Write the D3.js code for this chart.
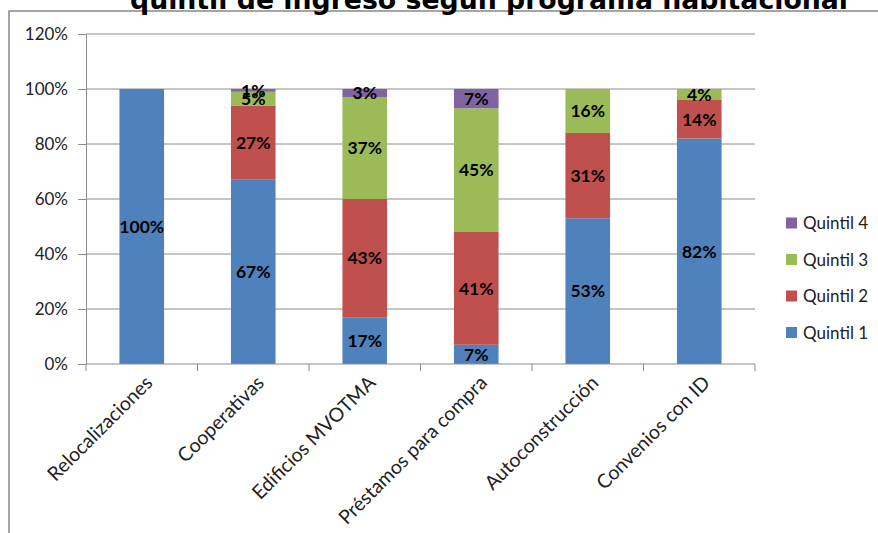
<!DOCTYPE html>
<html>
<head>
<meta charset="utf-8">
<script src="https://cdn.jsdelivr.net/npm/d3@7"></script>
<style>
  html, body { margin: 0; padding: 0; background: #fff; }
  svg { display: block; }
</style>
</head>
<body>
<svg id="chart" width="878" height="533"></svg>
<script>
// Programs (x categories)
const categories = ["Relocalizaciones", "Cooperativas", "Edificios MVOTMA",
  "Préstamos para compra", "Autoconstrucción", "Convenios con ID"];

// Share of households per income quintile, in percent
const quintil1 = [100, 67, 17, 7, 53, 82];
const quintil2 = [0, 27, 43, 41, 31, 14];
const quintil3 = [0, 5, 37, 45, 16, 4];
const quintil4 = [0, 1, 3, 7, 0, 0];

const seriesNames = ["Quintil 1", "Quintil 2", "Quintil 3", "Quintil 4"];
const seriesColors = ["#4F81BD", "#C0504D", "#9BBB59", "#8064A2"];
const yTicks = [0, 20, 40, 60, 80, 100, 120];
const title = "quintil de ingreso según programa habitacional";

const seriesValues = [quintil1, quintil2, quintil3, quintil4];
const rows = categories.map((c, i) => {
  const r = { cat: c };
  seriesNames.forEach((s, k) => { r[s] = seriesValues[k][i]; });
  return r;
});

const svg = d3.select("#chart");
const font = "Lato, 'Open Sans', sans-serif";

// Outer chart frame (partly outside the window)
svg.append("rect")
  .attr("x", 9).attr("y", 11)
  .attr("width", 900).attr("height", 560)
  .attr("fill", "none").attr("stroke", "#888").attr("stroke-width", 1.5);

// Title, clipped at the top edge
svg.append("text")
  .attr("x", 130).attr("y", 9)
  .attr("text-anchor", "start")
  .attr("font-family", "'DejaVu Sans', sans-serif")
  .attr("font-weight", "bold")
  .attr("font-size", 27)
  .attr("textLength", 718)
  .attr("lengthAdjust", "spacingAndGlyphs")
  .attr("fill", "#000")
  .text(title);

const plot = { left: 86, right: 755, top: 34, bottom: 364 };

const x = d3.scaleBand()
  .domain(categories)
  .range([plot.left, plot.right])
  .paddingInner(0.6)
  .paddingOuter(0.3);

const y = d3.scaleLinear()
  .domain([0, 120])
  .range([plot.bottom, plot.top]);

// Horizontal gridlines
svg.append("g")
  .selectAll("line")
  .data(yTicks.filter(t => t > 0))
  .join("line")
  .attr("x1", plot.left).attr("x2", plot.right)
  .attr("y1", d => y(d)).attr("y2", d => y(d))
  .attr("stroke", "#8c8c8c").attr("stroke-width", 1);

// Y axis
const yAxis = svg.append("g")
  .attr("transform", `translate(${plot.left},0)`)
  .call(d3.axisLeft(y).tickValues(yTicks).tickSize(8).tickPadding(10)
    .tickFormat(d => d + "%"));
yAxis.select(".domain").attr("stroke", "#8c8c8c");
yAxis.selectAll(".tick line").attr("stroke", "#8c8c8c");
yAxis.selectAll(".tick text")
  .attr("font-family", font).attr("font-size", 17).attr("fill", "#222");

// Stacked bars
const stack = d3.stack().keys(seriesNames);
const stacked = stack(rows);

const layers = svg.append("g")
  .selectAll("g")
  .data(stacked)
  .join("g")
  .attr("fill", (d, i) => seriesColors[i]);

layers.selectAll("rect")
  .data(d => d.filter(p => p[1] - p[0] > 0))
  .join("rect")
  .attr("x", p => x(p.data.cat))
  .attr("width", x.bandwidth())
  .attr("y", p => y(p[1]))
  .attr("height", p => y(p[0]) - y(p[1]));

// X axis with ticks at category boundaries
const xAxisG = svg.append("g");
xAxisG.append("line")
  .attr("x1", plot.left).attr("x2", plot.right)
  .attr("y1", plot.bottom).attr("y2", plot.bottom)
  .attr("stroke", "#8c8c8c");
const step = x.step();
const bounds = d3.range(categories.length + 1).map(i => plot.left + i * step);
xAxisG.selectAll("line.tk")
  .data(bounds)
  .join("line")
  .attr("class", "tk")
  .attr("x1", d => d).attr("x2", d => d)
  .attr("y1", plot.bottom).attr("y2", plot.bottom + 7)
  .attr("stroke", "#8c8c8c");

// Category labels rotated 45 degrees
svg.append("g")
  .selectAll("text")
  .data(categories)
  .join("text")
  .attr("transform", d => `translate(${x(d) + x.bandwidth() / 2 + 12},${plot.bottom + 20}) rotate(-45)`)
  .attr("text-anchor", "end")
  .attr("font-family", font)
  .attr("font-size", 19.5)
  .attr("fill", "#222")
  .text(d => d);

// Value labels centred in each segment
const labels = svg.append("g");
stacked.forEach(layer => {
  labels.selectAll(null)
    .data(layer.filter(p => p[1] - p[0] > 0))
    .join("text")
    .attr("x", p => x(p.data.cat) + x.bandwidth() / 2)
    .attr("y", p => y((p[0] + p[1]) / 2))
    .attr("dy", "0.36em")
    .attr("text-anchor", "middle")
    .attr("font-family", font)
    .attr("font-weight", "bold")
    .attr("font-size", 17.5)
    .attr("fill", "#000")
    .text(p => (p[1] - p[0]) + "%");
});

// Legend, Quintil 4 on top
const legendY = [332.5, 296, 259.5, 223];
const legend = svg.append("g");
seriesNames.forEach((s, i) => {
  const g = legend.append("g").attr("transform", `translate(786,${legendY[i]})`);
  g.append("rect").attr("x", 0).attr("y", -5.5).attr("width", 11).attr("height", 11)
    .attr("fill", seriesColors[i]);
  g.append("text").attr("x", 17).attr("y", 0).attr("dy", "0.36em")
    .attr("font-family", font).attr("font-size", 17).attr("fill", "#222")
    .text(s);
});
</script>
</body>
</html>
